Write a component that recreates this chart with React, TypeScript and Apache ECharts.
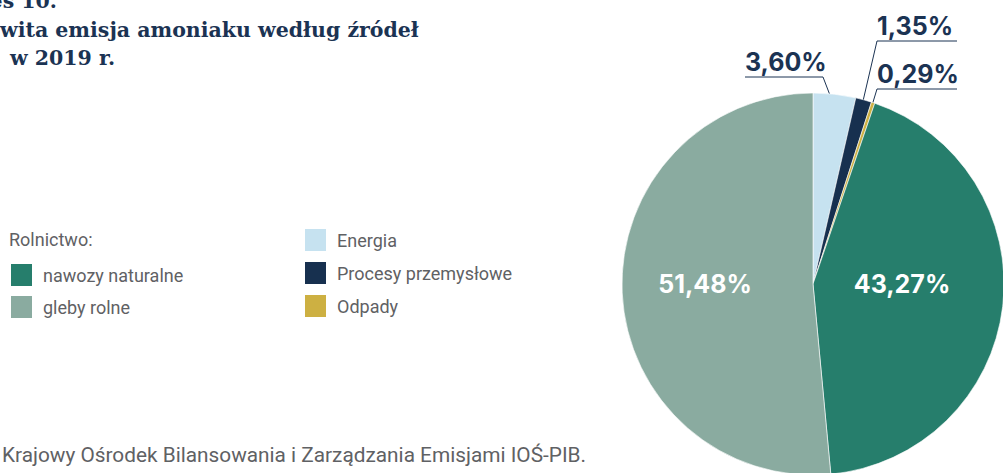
import React, { useEffect, useRef } from 'react';
import * as echarts from 'echarts';

const sliceNames = ['Energia', 'Procesy przemysłowe', 'Odpady', 'nawozy naturalne', 'gleby rolne'];
const sliceValues = [3.6, 1.35, 0.29, 43.27, 51.48];
const sliceColors = ['#c6e2f0', '#17304f', '#cdb042', '#267e6c', '#8aaba0'];
const legendLeftItems = ['nawozy naturalne', 'gleby rolne'];
const legendRightItems = ['Energia', 'Procesy przemysłowe', 'Odpady'];
const titleLines = ['es 10.', 'wita emisja amoniaku według źródeł', 'w 2019 r.'];
const groupLabel = 'Rolnictwo:';
const sourceText = 'Krajowy Ośrodek Bilansowania i Zarządzania Emisjami IOŚ-PIB.';

// label placement (layout only)
type Place = { inside: boolean; x: number; y: number; lineFrom?: number; lineTo?: number };
const labelPlacement: Place[] = [
  { inside: false, x: 745, y: 74, lineFrom: 823, lineTo: 745 },
  { inside: false, x: 877, y: 38, lineFrom: 877, lineTo: 957 },
  { inside: false, x: 877, y: 86, lineFrom: 877, lineTo: 957 },
  { inside: true, x: 902, y: 284 },
  { inside: true, x: 705, y: 284 },
];

const NAVY = '#1b3353';
const LABEL_FONT = 'Inter';
const TEXT_FONT = 'Roboto';
const TEXT_GRAY = '#5f6164';
const TITLE_FONT = 'bold 20.5px "DejaVu Serif"';

function fmt(v: number) {
  return v.toFixed(2).replace('.', ',') + '%';
}

export default function App() {
  const ref = useRef<HTMLDivElement>(null);
  useEffect(() => {
    if (!ref.current) return;
    const chart = echarts.init(ref.current, null, { renderer: 'svg' });
    const data = sliceNames.map((name, i) => {
      const p = labelPlacement[i];
      return {
        name,
        value: sliceValues[i],
        itemStyle: { color: sliceColors[i] },
        label: p.inside
          ? { position: 'inside', color: '#ffffff' }
          : { position: 'outside', color: NAVY },
        labelLine: { show: !p.inside },
      };
    });
    const legendText = {
      color: TEXT_GRAY,
      fontSize: 18,
      fontFamily: TEXT_FONT,
      lineHeight: 24,
      padding: [0, 0, 0, 5],
    };
    chart.setOption({
      animation: false,
      backgroundColor: '#ffffff',
      legend: [
        {
          orient: 'vertical',
          left: 9,
          top: 262,
          padding: 0,
          itemWidth: 23,
          itemHeight: 24,
          itemGap: 6,
          icon: 'rect',
          selectedMode: false,
          data: legendLeftItems,
          textStyle: legendText,
        },
        {
          orient: 'vertical',
          left: 303,
          top: 227,
          padding: 0,
          itemWidth: 23,
          itemHeight: 24,
          itemGap: 7,
          icon: 'rect',
          selectedMode: false,
          data: legendRightItems,
          textStyle: legendText,
        },
      ],
      graphic: [
        {
          type: 'text',
          right: 1003 - 57,
          top: -10,
          style: { text: titleLines[0], font: TITLE_FONT, fill: NAVY },
        },
        {
          type: 'text',
          left: 0,
          top: 19,
          style: { text: titleLines[1], font: TITLE_FONT, fill: NAVY },
        },
        {
          type: 'text',
          left: 10,
          top: 47,
          style: { text: titleLines[2], font: TITLE_FONT, fill: NAVY },
        },
        {
          type: 'text',
          left: 9,
          top: 230,
          style: { text: groupLabel, font: '18px Roboto', fill: TEXT_GRAY },
        },
        {
          type: 'text',
          left: 2,
          top: 444,
          style: { text: sourceText, font: '20.8px Roboto', fill: TEXT_GRAY },
        },
      ],
      series: [
        {
          type: 'pie',
          center: [813, 284],
          radius: 191,
          startAngle: 90,
          clockwise: true,
          avoidLabelOverlap: false,
          itemStyle: { borderColor: '#ffffff', borderWidth: 0.6 },
          label: {
            show: true,
            fontFamily: LABEL_FONT,
            fontWeight: 'bold',
            fontSize: 25,
            formatter: (p: any) => fmt(p.value),
          },
          labelLine: { show: true, length: 10, length2: 10, lineStyle: { color: NAVY, width: 1 } },
          labelLayout: (params: any) => {
            const p = labelPlacement[params.dataIndex];
            if (p.inside) {
              return { x: p.x, y: p.y, align: 'center', verticalAlign: 'middle' };
            }
            const pts = params.labelLinePoints;
            let start: number[] = [p.lineFrom as number, p.y + 3];
            if (pts && pts.length >= 2) {
              const dx = pts[1][0] - pts[0][0];
              const dy = pts[1][1] - pts[0][1];
              const len = Math.sqrt(dx * dx + dy * dy) || 1;
              start = [pts[0][0] - (dx / len) * 10, pts[0][1] - (dy / len) * 10];
            }
            return {
              x: p.x,
              y: p.y,
              align: 'left',
              verticalAlign: 'bottom',
              labelLinePoints: [start, [p.lineFrom, p.y + 3], [p.lineTo, p.y + 3]],
            };
          },
          data,
        },
      ],
    });
    return () => chart.dispose();
  }, []);
  return <div ref={ref} style={{ position: 'fixed', left: 0, top: 0, width: 1003, height: 473 }} />;
}
